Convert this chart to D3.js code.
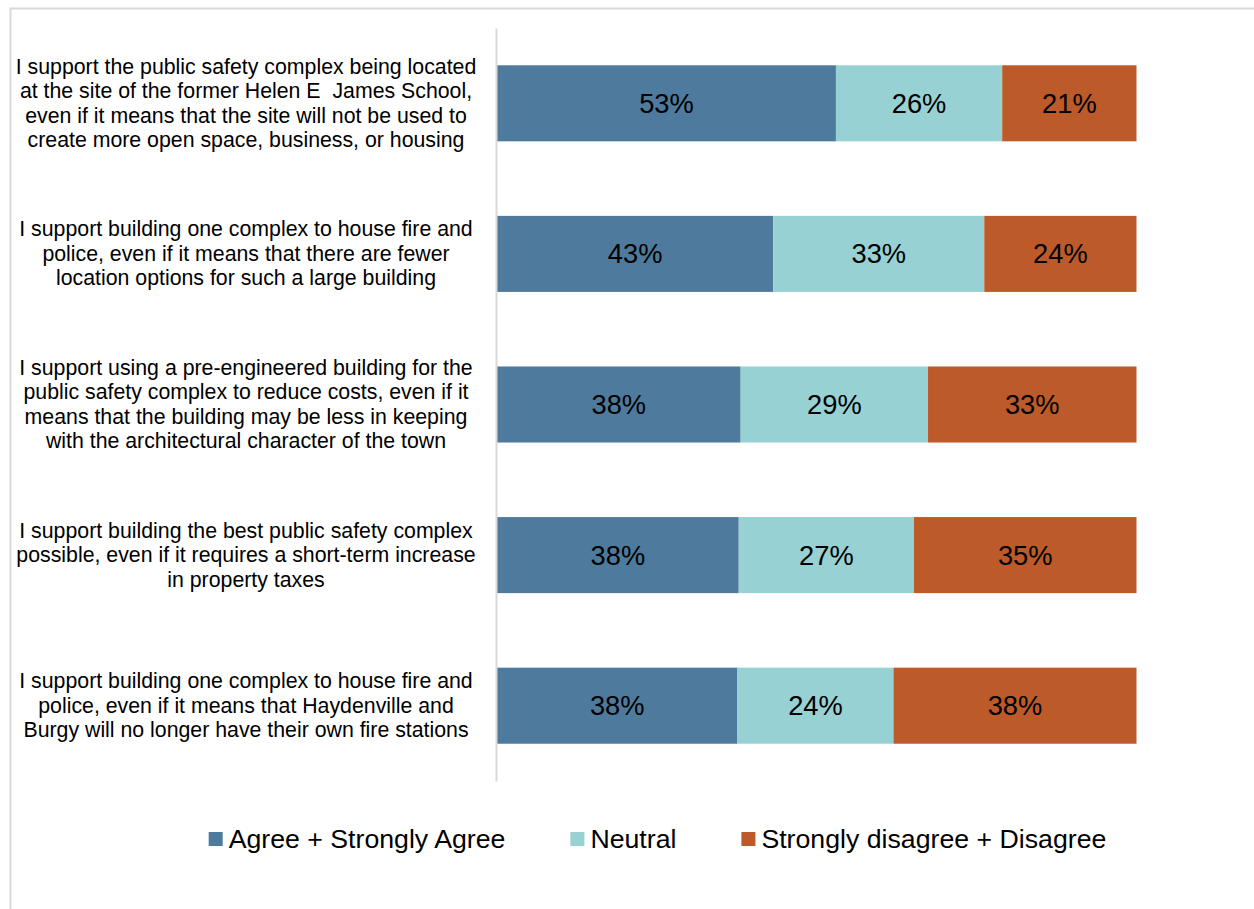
<!DOCTYPE html>
<html>

<head>
    <title>Public Safety Complex Survey</title>
    <script src="https://d3js.org/d3.v7.min.js"></script>
    <style>
        body {
            margin: 0;
            background: #fff;
            font-family: "Liberation Sans", Arial, sans-serif;
        }

        .cat-label {
            font-size: 21.3px;
            fill: #000;
            white-space: pre;
        }

        .val-label {
            font-size: 27.3px;
            fill: #000;
        }

        .legend-label {
            font-size: 26.7px;
            fill: #000;
        }
    </style>
</head>

<body>
<script>
    // category labels, already broken into lines as in the original
    var categories = [
        ["I support the public safety complex being located",
            "at the site of the former Helen E  James School,",
            "even if it means that the site will not be used to",
            "create more open space, business, or housing"],
        ["I support building one complex to house fire and",
            "police, even if it means that there are fewer",
            "location options for such a large building"],
        ["I support using a pre-engineered building for the",
            "public safety complex to reduce costs, even if it",
            "means that the building may be less in keeping",
            "with the architectural character of the town"],
        ["I support building the best public safety complex",
            "possible, even if it requires a short-term increase",
            "in property taxes"],
        ["I support building one complex to house fire and",
            "police, even if it means that Haydenville and",
            "Burgy will no longer have their own fire stations"]
    ];

    var agree = [53.0, 43.2, 38.1, 37.8, 37.6];
    var neutral = [26.0, 33.0, 29.3, 27.4, 24.4];
    var disagree = [21.0, 23.8, 32.6, 34.8, 38.0];

    var seriesNames = ["Agree + Strongly Agree", "Neutral", "Strongly disagree + Disagree"];
    var seriesColors = ["#4E7B9D", "#98D1D3", "#BC5A2A"];

    var w = 1254;
    var h = 909;

    var rows = categories.map(function (c, i) {
        return { idx: i, agree: agree[i], neutral: neutral[i], disagree: disagree[i] };
    });
    var keys = ["agree", "neutral", "disagree"];

    var stack = d3.stack().keys(keys);
    var stacked = stack(rows);

    var x = d3.scaleLinear().domain([0, 100]).range([497, 1136.5]);
    var y = d3.scaleBand()
        .domain(d3.range(categories.length))
        .range([28, 781])
        .paddingInner(0.495)
        .paddingOuter(0.2475);

    var color = d3.scaleOrdinal().domain(keys).range(seriesColors);

    var svg = d3.select("body")
        .append("svg")
        .attr("width", w)
        .attr("height", h);

    // outer chart frame (only top and left visible in the crop)
    svg.append("rect")
        .attr("x", 10.5)
        .attr("y", 8.5)
        .attr("width", w + 20)
        .attr("height", h + 20)
        .attr("fill", "none")
        .attr("stroke", "#D9D9D9")
        .attr("stroke-width", 2);

    // bars
    var layers = svg.selectAll(".layer")
        .data(stacked)
        .enter()
        .append("g")
        .attr("class", "layer")
        .attr("fill", function (d) { return color(d.key); });

    layers.selectAll("rect")
        .data(function (d) { return d; })
        .enter()
        .append("rect")
        .attr("x", function (d) { return x(d[0]); })
        .attr("y", function (d) { return y(d.data.idx); })
        .attr("width", function (d) { return x(d[1]) - x(d[0]); })
        .attr("height", y.bandwidth());

    // value labels
    layers.selectAll("text")
        .data(function (d) { return d; })
        .enter()
        .append("text")
        .attr("class", "val-label")
        .attr("x", function (d) { return (x(d[0]) + x(d[1])) / 2; })
        .attr("y", function (d) { return y(d.data.idx) + y.bandwidth() / 2; })
        .attr("text-anchor", "middle")
        .attr("dominant-baseline", "central")
        .text(function (d) { return d3.format(".0f")(d[1] - d[0]) + "%"; });

    // vertical axis line
    var yAxis = svg.append("g")
        .attr("transform", "translate(496,0)")
        .call(d3.axisLeft(y).tickSize(0).tickFormat(""));
    yAxis.select(".domain")
        .attr("stroke", "#D9D9D9")
        .attr("stroke-width", 2);

    // category labels
    var lineH = 24.5;
    svg.selectAll(".cat-label")
        .data(categories)
        .enter()
        .append("text")
        .attr("class", "cat-label")
        .attr("text-anchor", "middle")
        .each(function (lines, i) {
            var cy = y(i) + y.bandwidth() / 2;
            var top = cy - (lines.length - 1) * lineH / 2;
            d3.select(this).selectAll("tspan")
                .data(lines)
                .enter()
                .append("tspan")
                .attr("x", 246)
                .attr("y", function (l, j) { return top + j * lineH; })
                .attr("dominant-baseline", "central")
                .text(function (l) { return l; });
        });

    // legend
    var legend = svg.append("g").attr("class", "legend");
    var sw = 14, gapText = 6, gapItem = 65, legendY = 839;
    var items = legend.selectAll("g")
        .data(seriesNames)
        .enter()
        .append("g");
    items.append("rect")
        .attr("width", sw)
        .attr("height", sw)
        .attr("y", legendY - sw / 2)
        .attr("fill", function (d, i) { return seriesColors[i]; });
    items.append("text")
        .attr("class", "legend-label")
        .attr("x", sw + gapText)
        .attr("y", legendY)
        .attr("dominant-baseline", "central")
        .text(function (d) { return d; });

    var widths = [];
    items.each(function () {
        widths.push(d3.select(this).select("text").node().getComputedTextLength() + sw + gapText);
    });
    var total = d3.sum(widths) + gapItem * (widths.length - 1);
    var lx = 657.5 - total / 2;
    items.attr("transform", function (d, i) {
        var t = "translate(" + lx + ",0)";
        lx += widths[i] + gapItem;
        return t;
    });
</script>
</body>

</html>
